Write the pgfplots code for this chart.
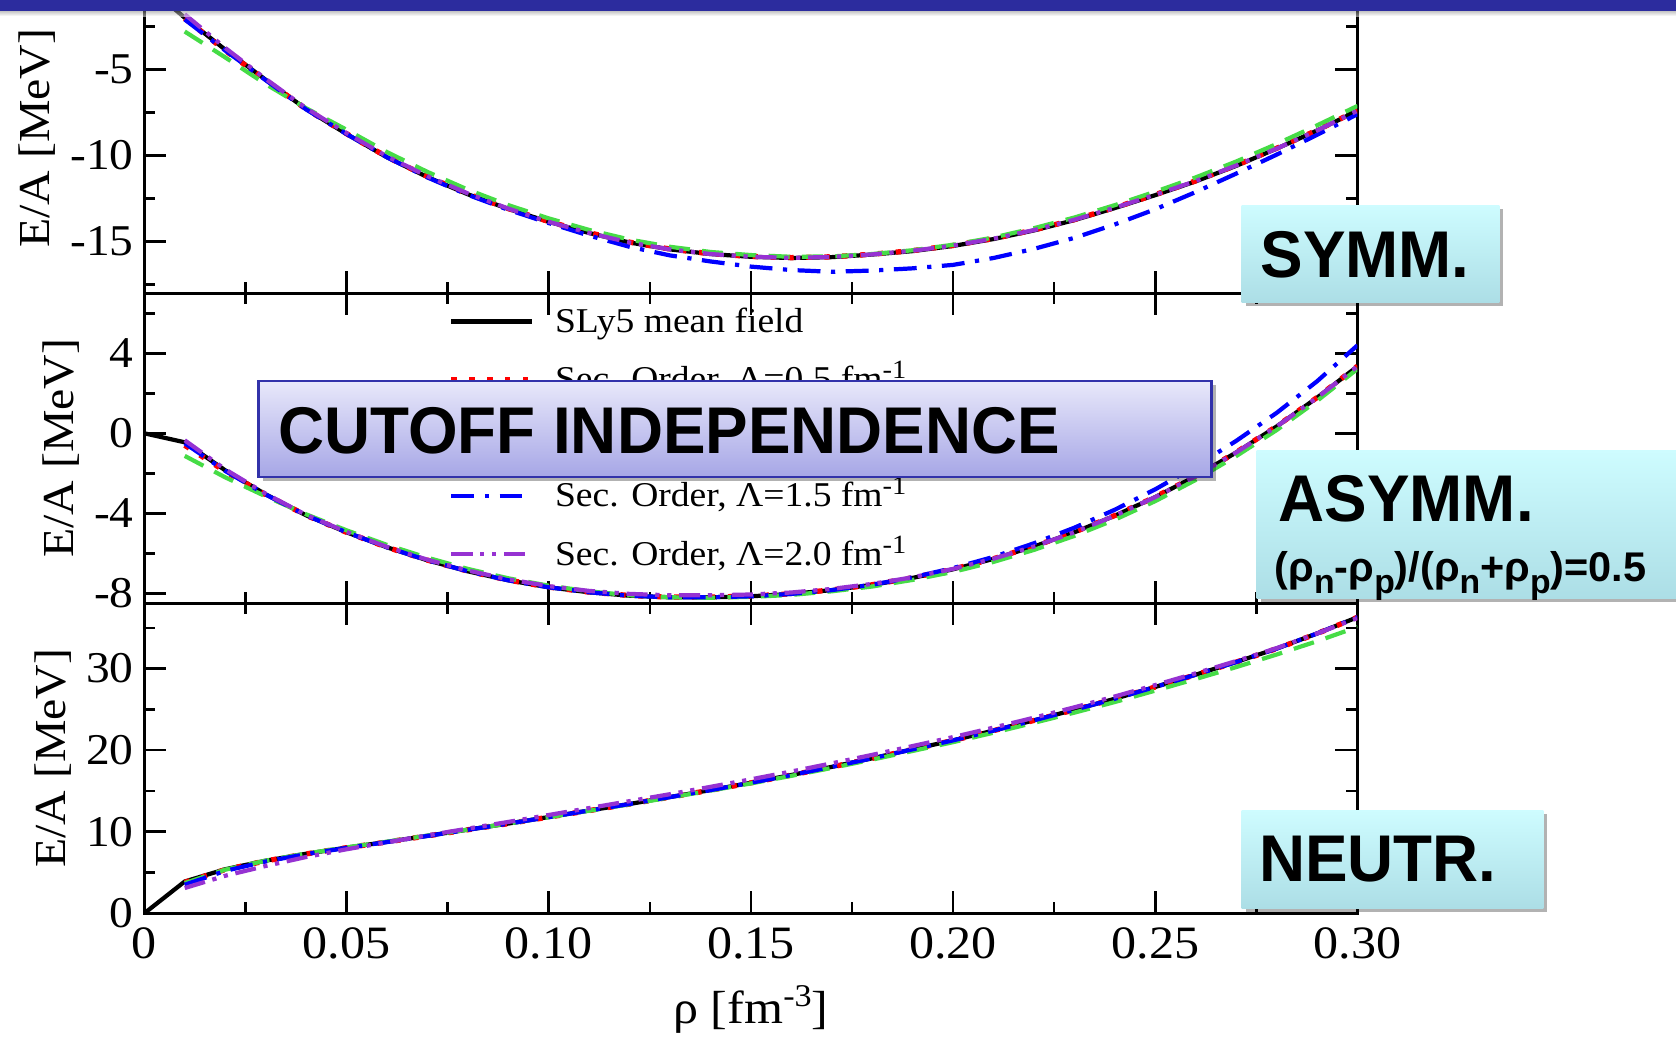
\documentclass[border=0pt]{standalone}
\usepackage{pgfplots}
\pgfplotsset{compat=1.18}
\usepackage{pgfplotstable}
\usepackage{fontspec}
\setmainfont{Liberation Serif}[FakeStretch=1.08]
\newfontfamily\boxfont{Liberation Sans}[FakeStretch=0.965]
\newfontfamily\subboxfont{Liberation Sans}
\usetikzlibrary{shadows}
\definecolor{grgreen}{RGB}{70,220,70}
\definecolor{grviolet}{RGB}{150,50,210}
\definecolor{barblue}{RGB}{44,44,158}
\definecolor{cyantop}{RGB}{206,252,255}
\definecolor{cyanbot}{RGB}{172,222,230}
\definecolor{lavtop}{RGB}{232,232,250}
\definecolor{lavbot}{RGB}{166,166,230}
\definecolor{lavborder}{RGB}{50,50,170}
\newcommand\sub[1]{\raisebox{-0.3em}{\fontsize{9.6}{10}\selectfont #1}}

\pgfplotstableread{
rho black red green blue violet
0.00 0.0 nan nan nan nan
0.01 -2.0 -2.04 -2.8 -2.1 -1.8
0.02 -3.85 -3.9 -4.3 -3.9 -3.75
0.03 -5.6 -5.62 -5.85 -5.62 -5.55
0.04 -7.3 -7.3 -7.25 -7.32 -7.25
0.05 -8.75 -8.73 -8.5 -8.75 -8.7
0.06 -10.1 -10.08 -9.8 -10.1 -10.05
0.07 -11.25 -11.22 -10.95 -11.27 -11.2
0.08 -12.25 -12.22 -11.98 -12.28 -12.2
0.09 -13.1 -13.08 -12.88 -13.15 -13.08
0.10 -13.85 -13.83 -13.65 -13.92 -13.85
0.11 -14.5 -14.48 -14.32 -14.65 -14.5
0.12 -15.05 -15.03 -14.88 -15.3 -15.05
0.13 -15.45 -15.43 -15.3 -15.8 -15.45
0.14 -15.72 -15.7 -15.6 -16.15 -15.72
0.15 -15.88 -15.86 -15.78 -16.45 -15.88
0.16 -15.95 -15.93 -15.88 -16.65 -15.94
0.17 -15.9 -15.88 -15.86 -16.75 -15.89
0.18 -15.75 -15.73 -15.72 -16.68 -15.74
0.19 -15.55 -15.52 -15.5 -16.55 -15.53
0.20 -15.25 -15.22 -15.18 -16.35 -15.23
0.21 -14.85 -14.82 -14.76 -15.95 -14.83
0.22 -14.35 -14.32 -14.22 -15.42 -14.33
0.23 -13.75 -13.72 -13.6 -14.78 -13.73
0.24 -13.05 -13.02 -12.88 -14.0 -13.03
0.25 -12.3 -12.27 -12.1 -13.12 -12.28
0.26 -11.5 -11.47 -11.27 -12.12 -11.48
0.27 -10.6 -10.57 -10.35 -11.05 -10.58
0.28 -9.6 -9.58 -9.33 -9.95 -9.6
0.29 -8.55 -8.53 -8.25 -8.8 -8.55
0.30 -7.4 -7.38 -7.12 -7.6 -7.4
}\symm

\pgfplotstableread{
rho black red green blue violet
0.00 0.0 nan nan nan nan
0.01 -0.45 -0.6 -1.13 -0.5 -0.35
0.02 -1.85 -1.9 -2.2 -1.88 -1.8
0.03 -3.05 -3.07 -3.15 -3.06 -3.02
0.04 -4.1 -4.1 -4.05 -4.1 -4.08
0.05 -4.95 -4.95 -4.85 -4.95 -4.93
0.06 -5.7 -5.7 -5.58 -5.7 -5.68
0.07 -6.35 -6.34 -6.22 -6.35 -6.32
0.08 -6.9 -6.89 -6.78 -6.9 -6.86
0.09 -7.35 -7.34 -7.25 -7.35 -7.3
0.10 -7.7 -7.69 -7.62 -7.7 -7.64
0.11 -7.95 -7.94 -7.9 -7.95 -7.88
0.12 -8.12 -8.11 -8.1 -8.12 -8.03
0.13 -8.2 -8.19 -8.2 -8.2 -8.1
0.14 -8.2 -8.19 -8.22 -8.2 -8.1
0.15 -8.15 -8.14 -8.18 -8.15 -8.06
0.16 -8.03 -8.02 -8.08 -8.03 -7.96
0.17 -7.84 -7.83 -7.9 -7.84 -7.78
0.18 -7.58 -7.57 -7.66 -7.57 -7.53
0.19 -7.23 -7.22 -7.33 -7.2 -7.2
0.20 -6.8 -6.79 -6.93 -6.74 -6.78
0.21 -6.28 -6.27 -6.43 -6.18 -6.27
0.22 -5.66 -5.65 -5.83 -5.5 -5.66
0.23 -4.95 -4.94 -5.13 -4.72 -4.95
0.24 -4.12 -4.11 -4.32 -3.82 -4.12
0.25 -3.19 -3.18 -3.39 -2.8 -3.19
0.26 -2.14 -2.13 -2.33 -1.65 -2.14
0.27 -0.96 -0.95 -1.14 -0.38 -0.96
0.28 0.34 0.35 0.16 1.02 0.34
0.29 1.78 1.79 1.62 2.6 1.78
0.30 3.35 3.36 3.22 4.4 3.35
}\asymm

\pgfplotstableread{
rho black red green blue violet
0.00 0.0 nan nan nan nan
0.01 3.9 3.8 3.7 3.5 3.1
0.02 5.4 5.35 5.35 5.2 4.6
0.03 6.45 6.42 6.45 6.35 5.8
0.04 7.3 7.28 7.32 7.25 6.9
0.05 8.05 8.04 8.08 8.02 7.85
0.06 8.75 8.74 8.78 8.73 8.7
0.07 9.5 9.49 9.52 9.48 9.55
0.08 10.25 10.24 10.26 10.24 10.38
0.09 11.0 10.99 11.0 10.99 11.2
0.10 11.8 11.79 11.78 11.79 12.05
0.11 12.6 12.59 12.57 12.6 12.9
0.12 13.4 13.39 13.36 13.4 13.75
0.13 14.25 14.24 14.2 14.25 14.6
0.14 15.1 15.09 15.04 15.1 15.5
0.15 16.0 15.99 15.92 16.0 16.42
0.16 16.95 16.94 16.85 16.95 17.38
0.17 17.95 17.94 17.82 17.95 18.38
0.18 19.0 18.99 18.84 19.0 19.42
0.19 20.1 20.09 19.9 20.1 20.5
0.20 21.2 21.19 20.98 21.2 21.6
0.21 22.4 22.39 22.14 22.4 22.76
0.22 23.65 23.64 23.35 23.65 23.98
0.23 24.95 24.94 24.6 24.95 25.25
0.24 26.3 26.29 25.9 26.3 26.58
0.25 27.75 27.74 27.3 27.75 27.98
0.26 29.25 29.24 28.72 29.25 29.42
0.27 30.8 30.79 30.18 30.8 30.92
0.28 32.45 32.44 31.72 32.45 32.5
0.29 34.3 34.29 33.35 34.3 34.3
0.30 36.3 36.29 35.1 36.3 36.2
}\neutr

\pgfplotsset{
  panel/.style={
    scale only axis, width=12.132cm, height=3.1cm,
    xmin=0, xmax=0.3,
    xtick={0,0.05,0.1,0.15,0.2,0.25,0.3},
    minor xtick={0.025,0.075,0.125,0.175,0.225,0.275},
    tick pos=both, tick align=inside,
    major tick length=0.22cm, minor tick length=0.11cm,
    axis line style={line width=0.7pt},
    every tick/.append style={black, line width=0.7pt},
    every minor tick/.append style={black, line width=0.7pt},
    yticklabel style={inner sep=0pt, xshift=-0.1cm, font=\fontsize{12.5}{14}\selectfont},
    xticklabel style={inner sep=0pt, yshift=-0.14cm, font=\fontsize{13.2}{14}\selectfont},
    label style={font=\fontsize{12.6}{14}\selectfont},
    xticklabels={},
    ylabel={E/A [MeV]},
    clip=true,
  },
  sblack/.style={black, line width=1.2pt, mark=none},
  sred/.style={red, line width=1.5pt, mark=none, dash pattern=on 1.5pt off 3.6pt},
  sgreen/.style={grgreen, line width=1.2pt, mark=none, dash pattern=on 6pt off 3.5pt},
  sblue/.style={blue, line width=1.2pt, mark=none, dash pattern=on 6.5pt off 3pt on 1.2pt off 3pt},
  sviolet/.style={grviolet, line width=1.2pt, mark=none, dash pattern=on 6pt off 2.2pt on 1.2pt off 2.2pt on 1.2pt off 2.2pt},
}

\begin{document}
\begin{tikzpicture}
\fill[white] (0,0) rectangle (16.76,10.38);

% top panel: symmetric matter
\begin{axis}[panel, at={(1.443cm,7.447cm)}, anchor=south west,
  ymin=-18, ymax=0, ytick={-15,-10,-5}, yticklabels={-15,-10,-5},
  minor ytick={-17.5,-12.5,-7.5,-2.5},
  ylabel style={at={(axis description cs:-0.0885,0.5)}, anchor=center}]
\addplot[sblack] table[x=rho,y=black]{\symm};
\addplot[sred] table[x=rho,y=red]{\symm};
\addplot[sgreen] table[x=rho,y=green]{\symm};
\addplot[sblue] table[x=rho,y=blue]{\symm};
\addplot[sviolet] table[x=rho,y=violet]{\symm};
\end{axis}

% middle panel: asymmetric matter
\begin{axis}[panel, at={(1.443cm,4.347cm)}, anchor=south west,
  ymin=-8.5, ymax=7, ytick={-8,-4,0,4}, yticklabels={-8,-4,0,4},
  minor ytick={-6,-2,2,6},
  ylabel style={at={(axis description cs:-0.0683,0.5)}, anchor=center},
  legend style={at={(rel axis cs:0.251,1.003)}, anchor=north west, draw=none, fill=none,
    inner sep=0pt, outer sep=0pt, font=\fontsize{9.9}{11}\selectfont,
    column sep=0.2cm, row sep=0pt,
    nodes={inner sep=0pt, text height=0.40cm, text depth=0.182cm}},
  legend cell align=left,
  legend image code/.code={\draw[#1] (0cm,0cm) -- (0.81cm,0cm);}]
\addplot[sblack] table[x=rho,y=black]{\asymm};
\addlegendentry{SLy5 mean field}
\addplot[sred] table[x=rho,y=red]{\asymm};
\addlegendentry{Sec. Order, Λ=0.5 fm\raisebox{0.75ex}{\fontsize{7.5}{8}\selectfont -1}}
\addplot[sgreen] table[x=rho,y=green]{\asymm};
\addlegendentry{Sec. Order, Λ=1.0 fm\raisebox{0.75ex}{\fontsize{7.5}{8}\selectfont -1}}
\addplot[sblue] table[x=rho,y=blue]{\asymm};
\addlegendentry{Sec. Order, Λ=1.5 fm\raisebox{0.75ex}{\fontsize{7.5}{8}\selectfont -1}}
\addplot[sviolet] table[x=rho,y=violet]{\asymm};
\addlegendentry{Sec. Order, Λ=2.0 fm\raisebox{0.75ex}{\fontsize{7.5}{8}\selectfont -1}}
\end{axis}

% bottom panel: neutron matter
\begin{axis}[panel, at={(1.443cm,1.247cm)}, anchor=south west,
  ymin=0, ymax=38, ytick={0,10,20,30}, yticklabels={0,10,20,30},
  minor ytick={5,15,25,35},
  xticklabels={0,0.05,0.10,0.15,0.20,0.25,0.30},
  ylabel style={at={(axis description cs:-0.0748,0.5)}, anchor=center},
  xlabel={ρ [fm\raisebox{0.8ex}{\fontsize{9}{10}\selectfont -3}]},
  xlabel style={at={(axis description cs:0.5,0)}, anchor=north, inner sep=0pt, yshift=-0.72cm,
    font=\fontsize{13.2}{14}\selectfont}]
\addplot[sblack] table[x=rho,y=black]{\neutr};
\addplot[sred] table[x=rho,y=red]{\neutr};
\addplot[sgreen] table[x=rho,y=green]{\neutr};
\addplot[sblue] table[x=rho,y=blue]{\neutr};
\addplot[sviolet] table[x=rho,y=violet]{\neutr};
\end{axis}

% slide header bar
\fill[barblue] (0,10.27) rectangle (16.76,10.6);
\shade[top color=black!45, bottom color=white, opacity=0.5] (0,10.22) rectangle (16.76,10.27);

% overlay boxes
\shade[top color=lavtop, bottom color=lavbot, draw=lavborder, line width=0.6pt,
  drop shadow={shadow xshift=0.04cm, shadow yshift=-0.04cm, opacity=0.3, fill=black}]
  (2.585,5.608) rectangle (12.115,6.573);
\node[anchor=base west, inner sep=0pt, font=\boxfont\bfseries\fontsize{18.8}{20}\selectfont]
  at (2.775,5.847) {CUTOFF INDEPENDENCE};

\shade[top color=cyantop, bottom color=cyanbot,
  drop shadow={shadow xshift=0.04cm, shadow yshift=-0.04cm, opacity=0.3, fill=black}]
  (12.417,7.357) rectangle (14.993,8.33);
\node[anchor=base west, inner sep=0pt, font=\boxfont\bfseries\fontsize{18.8}{20}\selectfont]
  at (12.60,7.603) {SYMM.};

\shade[top color=cyantop, bottom color=cyanbot,
  drop shadow={shadow xshift=0.04cm, shadow yshift=-0.04cm, opacity=0.3, fill=black}]
  (12.567,4.397) rectangle (16.9,5.88);
\node[anchor=base west, inner sep=0pt, font=\boxfont\bfseries\fontsize{18.8}{20}\selectfont]
  at (12.78,5.163) {ASYMM.};
\node[anchor=base west, inner sep=0pt, font=\subboxfont\bfseries\fontsize{11.8}{13}\selectfont]
  at (12.74,4.57) {(ρ\sub{n}-ρ\sub{p})/(ρ\sub{n}+ρ\sub{p})=0.5};

\shade[top color=cyantop, bottom color=cyanbot,
  drop shadow={shadow xshift=0.04cm, shadow yshift=-0.04cm, opacity=0.3, fill=black}]
  (12.417,1.297) rectangle (15.433,2.28);
\node[anchor=base west, inner sep=0pt, font=\boxfont\bfseries\fontsize{18.8}{20}\selectfont]
  at (12.585,1.563) {NEUTR.};

\pgfresetboundingbox
\useasboundingbox (0,0) rectangle (16.76,10.38);
\end{tikzpicture}
\end{document}
